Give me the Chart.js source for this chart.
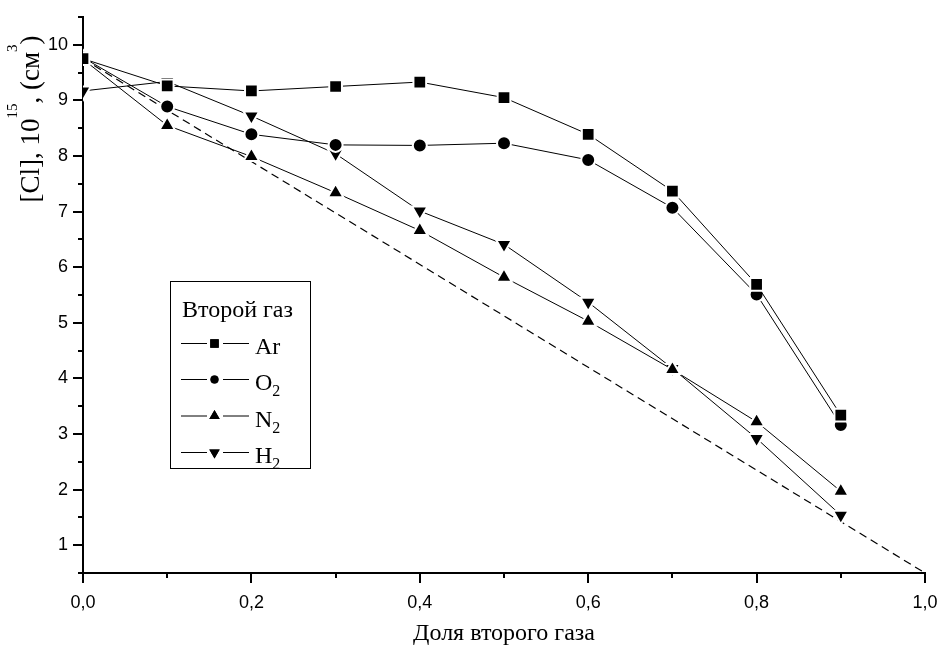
<!DOCTYPE html>
<html>
<head>
<meta charset="utf-8">
<script src="https://cdn.jsdelivr.net/npm/chart.js@4/dist/chart.umd.min.js"></script>
<style>
  html, body { margin: 0; padding: 0; background: #fff; }
  #wrap { width: 941px; height: 648px; }
</style>
</head>
<body>
<div id="wrap"><canvas id="clChart" width="941" height="648"></canvas></div>
<script>
// fraction of the second gas in the mixture
const fractions = [0, 0.1, 0.2, 0.3, 0.4, 0.5, 0.6, 0.7, 0.8, 0.9];

// [Cl] concentration, 10^15 cm^-3
const arValues = [9.75, 9.26, 9.17, 9.25, 9.33, 9.05, 8.39, 7.37, 5.69, 3.34];
const o2Values = [9.77, 8.89, 8.39, 8.20, 8.19, 8.23, 7.93, 7.07, 5.51, 3.16];
const n2Values = [9.74, 8.55, 7.99, 7.34, 6.66, 5.82, 5.03, 4.16, 3.22, 1.97];
const h2Values = [9.17, 9.34, 8.72, 8.04, 7.01, 6.41, 5.37, 4.18, 2.92, 1.54];

// simple dilution line
const dilutionX = [0, 1.0];
const dilutionY = [9.75, 0.5];

const xTicks = [0, 0.2, 0.4, 0.6, 0.8, 1.0];
const xMinorTicks = [0.1, 0.3, 0.5, 0.7, 0.9];
const yTicks = [1, 2, 3, 4, 5, 6, 7, 8, 9, 10];
const yMinorTicks = [0.5, 1.5, 2.5, 3.5, 4.5, 5.5, 6.5, 7.5, 8.5, 9.5, 10.5];

const legendTitle = "Второй газ";
const gasNames = [["Ar", ""], ["O", "2"], ["N", "2"], ["H", "2"]];

const SERIF = "'Liberation Serif', 'Times New Roman', serif";
const SANS = "'Liberation Sans', Arial, sans-serif";

const toPoints = (xs, ys) => xs.map((x, i) => ({ x: x, y: ys[i] }));

const markers = [
  { pointStyle: "rect", radius: 9, rotation: 0 },
  { pointStyle: "circle", radius: 7, rotation: 0 },
  { pointStyle: "triangle", radius: 9, rotation: 0 },
  { pointStyle: "triangle", radius: 9, rotation: 180 },
];

function gasDataset(label, values, m) {
  return {
    label: label,
    data: toPoints(fractions, values),
    borderColor: "#000",
    borderWidth: 1,
    backgroundColor: "#000",
    pointStyle: m.pointStyle,
    pointRadius: m.radius,
    pointRotation: m.rotation,
    pointBackgroundColor: "#000",
    pointBorderColor: "#fff",
    pointBorderWidth: 2,
    tension: 0,
  };
}

// draws a string made of pieces with different sizes and baseline shifts
function drawRich(ctx, parts, x, y) {
  let cx = x;
  parts.forEach((p) => {
    ctx.font = p.size + "px " + SERIF;
    ctx.fillText(p.text, cx, y + (p.dy || 0));
    cx += ctx.measureText(p.text).width;
  });
  return cx - x;
}

function richWidth(ctx, parts) {
  let w = 0;
  parts.forEach((p) => {
    ctx.font = p.size + "px " + SERIF;
    w += ctx.measureText(p.text).width;
  });
  return w;
}

const decorPlugin = {
  id: "decor",
  afterDraw(chart) {
    const ctx = chart.ctx;
    const xs = chart.scales.x;
    const ys = chart.scales.y;
    const area = chart.chartArea;

    ctx.save();
    ctx.strokeStyle = "#000";
    ctx.lineWidth = 2;

    // tick marks, pointing outwards
    ctx.beginPath();
    xTicks.forEach((v) => {
      const px = Math.round(xs.getPixelForValue(v));
      ctx.moveTo(px, area.bottom);
      ctx.lineTo(px, area.bottom + 10);
    });
    xMinorTicks.forEach((v) => {
      const px = Math.round(xs.getPixelForValue(v));
      ctx.moveTo(px, area.bottom);
      ctx.lineTo(px, area.bottom + 5);
    });
    yTicks.forEach((v) => {
      const py = Math.round(ys.getPixelForValue(v));
      ctx.moveTo(area.left, py);
      ctx.lineTo(area.left - 10, py);
    });
    yMinorTicks.forEach((v) => {
      const py = Math.round(ys.getPixelForValue(v));
      ctx.moveTo(area.left, py);
      ctx.lineTo(area.left - 5, py);
    });
    ctx.stroke();

    ctx.fillStyle = "#000";
    ctx.textBaseline = "alphabetic";
    ctx.textAlign = "left";

    // x axis title
    ctx.font = "24px " + SERIF;
    const xTitle = "Доля второго газа";
    const xw = ctx.measureText(xTitle).width;
    ctx.fillText(xTitle, (area.left + area.right) / 2 - xw / 2, 640);

    // y axis title with superscripts
    const yParts = [
      { text: "[Cl], 10", size: 27 },
      { text: "15", size: 15, dy: -22 },
      { text: ", (см", size: 27 },
      { text: "3", size: 15, dy: -22 },
      { text: ")", size: 27 },
    ];
    const yw = richWidth(ctx, yParts);
    ctx.save();
    ctx.translate(39, 119 + yw / 2);
    ctx.rotate(-Math.PI / 2);
    drawRich(ctx, yParts, 0, 0);
    ctx.restore();

    // legend box
    ctx.lineWidth = 1;
    ctx.strokeRect(170.5, 281.5, 140, 187);
    ctx.font = "24px " + SERIF;
    ctx.fillText(legendTitle, 182, 317);

    const rowBase = [354, 390, 426.5, 463];
    chart.data.datasets.slice(0, 4).forEach((ds, i) => {
      const mid = rowBase[i] - 10.5;
      ctx.beginPath();
      ctx.strokeStyle = "#000";
      ctx.lineWidth = 1;
      ctx.moveTo(181, mid);
      ctx.lineTo(207, mid);
      ctx.moveTo(223, mid);
      ctx.lineTo(249, mid);
      ctx.stroke();
      const m = markers[i];
      Chart.helpers.drawPoint(ctx, {
        pointStyle: m.pointStyle,
        radius: m.radius - 3,
        rotation: m.rotation,
        borderWidth: 0,
      }, 214.5, mid);
      ctx.fill();
      const [base, sub] = gasNames[i];
      drawRich(ctx, [
        { text: base, size: 24 },
        { text: sub, size: 16, dy: 6 },
      ], 255, rowBase[i]);
    });

    ctx.restore();
  },
};

// drop the label overhang padding so the plot box stays fixed
function noEdgePadding(s) {
  s.paddingLeft = 0;
  s.paddingRight = 0;
  s.paddingTop = 0;
  s.paddingBottom = 0;
}

const ctx = document.getElementById("clChart").getContext("2d");
new Chart(ctx, {
  type: "line",
  data: {
    datasets: [
      gasDataset("Ar", arValues, markers[0]),
      gasDataset("O2", o2Values, markers[1]),
      gasDataset("N2", n2Values, markers[2]),
      gasDataset("H2", h2Values, markers[3]),
      {
        label: "dilution",
        data: toPoints(dilutionX, dilutionY),
        borderColor: "#000",
        borderWidth: 1.2,
        borderDash: [8, 5],
        pointRadius: 0,
        tension: 0,
      },
    ],
  },
  options: {
    responsive: false,
    animation: false,
    layout: { padding: { top: 17, right: 16, left: 0, bottom: 0 } },
    plugins: {
      legend: { display: false },
      tooltip: { enabled: false },
    },
    scales: {
      x: {
        type: "linear",
        min: 0,
        max: 1,
        grid: { display: false, drawTicks: false },
        border: { display: true, color: "#000", width: 2 },
        ticks: {
          color: "#000",
          font: { family: SANS, size: 18 },
          padding: 19,
          maxRotation: 0,
          callback: (v) => v.toFixed(1).replace(".", ","),
        },
        afterBuildTicks: (s) => { s.ticks = xTicks.map((v) => ({ value: v })); },
        afterFit: (s) => { s.height = 75; noEdgePadding(s); },
      },
      y: {
        type: "linear",
        min: 0.5,
        max: 10.5,
        grid: { display: false, drawTicks: false },
        border: { display: true, color: "#000", width: 2 },
        ticks: {
          color: "#000",
          font: { family: SANS, size: 18 },
          padding: 15,
          callback: (v) => String(v),
        },
        afterBuildTicks: (s) => { s.ticks = yTicks.map((v) => ({ value: v })); },
        afterFit: (s) => { s.width = 83; noEdgePadding(s); },
      },
    },
  },
  plugins: [decorPlugin],
});
</script>
</body>
</html>
